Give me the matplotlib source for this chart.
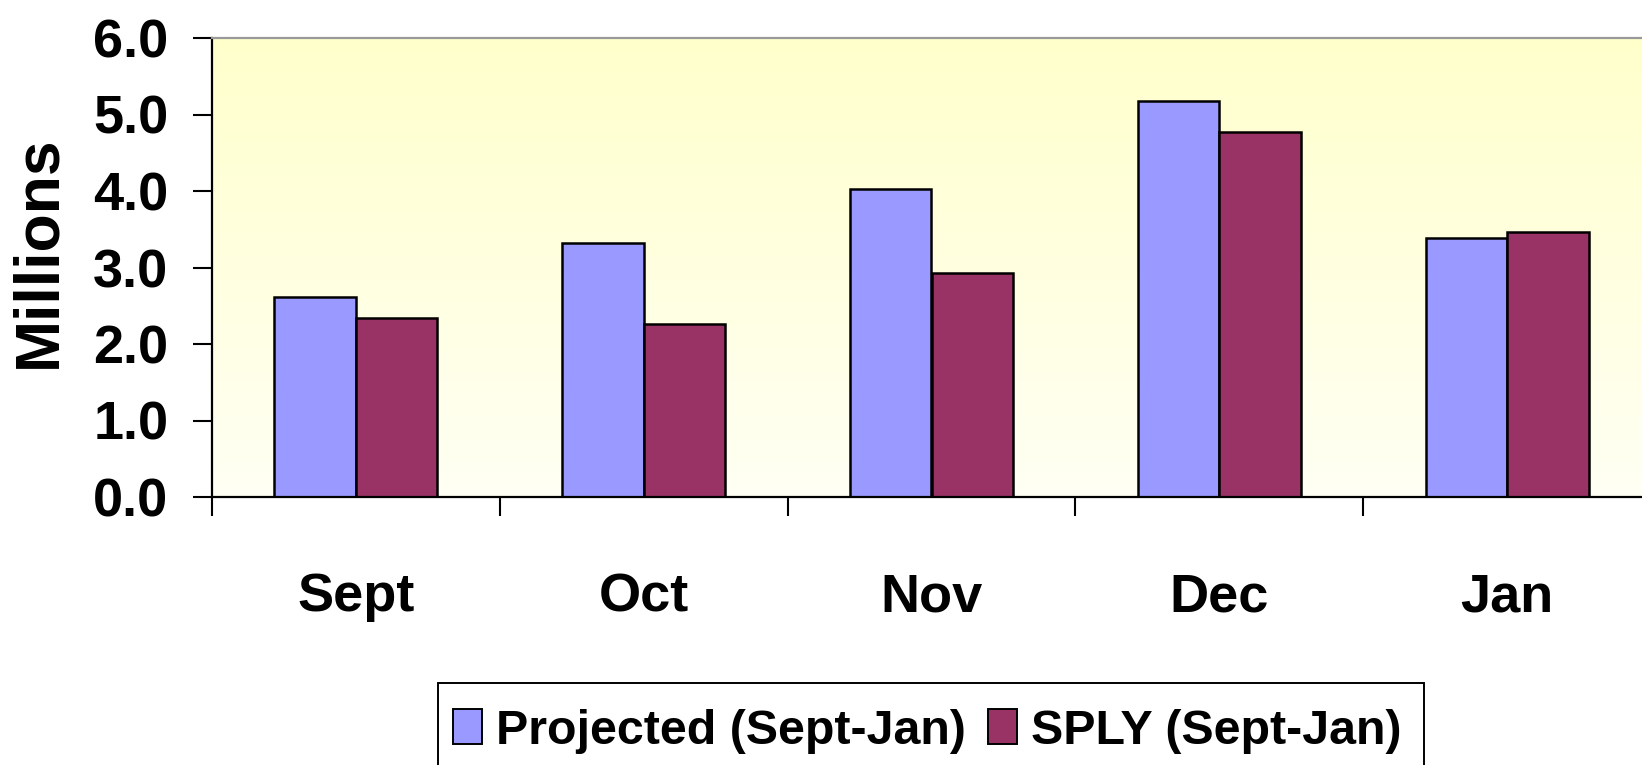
import matplotlib
matplotlib.use("Agg")
import matplotlib.pyplot as plt
import numpy as np
from matplotlib.colors import LinearSegmentedColormap
from matplotlib.patches import Patch, Rectangle

months = ["Sept", "Oct", "Nov", "Dec", "Jan"]
projected = [2.61, 3.32, 4.02, 5.18, 3.39]
sply = [2.34, 2.26, 2.93, 4.77, 3.47]
series_names = ["Projected (Sept-Jan)", "SPLY (Sept-Jan)"]
yticks = [0.0, 1.0, 2.0, 3.0, 4.0, 5.0, 6.0]

plt.rcParams["font.family"] = ["Liberation Sans", "DejaVu Sans"]
plt.rcParams["font.weight"] = "bold"

W, H = 1642, 765
fig = plt.figure(figsize=(W / 100, H / 100), dpi=100)
fig.patch.set_facecolor("white")

left = 212 / W
right = 1651 / W
top = 1 - 38 / H
bottom = 1 - 497 / H
ax = fig.add_axes([left, bottom, right - left, top - bottom])

# background gradient
cmap = LinearSegmentedColormap.from_list("bg", ["#FFFFF4", "#FFFFCC"])
grad = np.linspace(0, 1, 256).reshape(-1, 1)
ax.imshow(grad, cmap=cmap, origin="lower", extent=[0, 5, 0, 6], aspect="auto", zorder=0)

x = np.arange(len(months)) + 0.5
bw = 0.283
ax.bar(x - bw / 2, projected, width=bw, color="#9999FF", edgecolor="black", linewidth=1.8, zorder=2)
ax.bar(x + bw / 2, sply, width=bw, color="#993366", edgecolor="black", linewidth=1.8, zorder=2)

ax.set_xlim(0, 5)
ax.set_ylim(0, 6)
ax.set_yticks(yticks)
ax.set_yticklabels([f"{v:.1f}" for v in yticks])
ax.set_xticks(x)
ax.set_xticklabels(months)
ax.set_xticks(np.arange(0, 6), minor=True)

ax.tick_params(axis="y", direction="out", length=13.5, width=1.5, pad=18, labelsize=39, colors="black")
ax.tick_params(axis="x", which="major", length=0, pad=54, labelsize=39)
ax.tick_params(axis="x", which="minor", direction="out", length=14, width=1.5)

for s in ["left", "bottom"]:
    ax.spines[s].set_linewidth(1.6)
    ax.spines[s].set_color("black")
ax.spines["top"].set_color("#999999")
ax.spines["top"].set_linewidth(1.6)
ax.spines["right"].set_visible(False)

fig.text(39 / W, 1 - 252 / H, "Millions", rotation=90, ha="center", va="center", fontsize=45, fontweight="bold")

# legend frame (extends past bottom edge as in the reference)
fig.patches.append(Rectangle((438 / W, -0.05), (1424 - 438) / W, 0.05 + (765 - 683) / H,
                             transform=fig.transFigure, facecolor="white", edgecolor="black",
                             linewidth=1.4, zorder=1))

handles = [Patch(facecolor="#9999FF", edgecolor="black", linewidth=1.4),
           Patch(facecolor="#993366", edgecolor="black", linewidth=1.4)]
leg = fig.legend(handles, series_names, loc="upper left", bbox_to_anchor=(438 / W, 1 - 694 / H),
                 ncol=2, fontsize=34.8, frameon=False,
                 handlelength=0.6, handleheight=0.75, handletextpad=0.3, columnspacing=0.45,
                 borderpad=0.3, borderaxespad=0)
leg.set_zorder(3)

fig.savefig("out.png", dpi=100)
